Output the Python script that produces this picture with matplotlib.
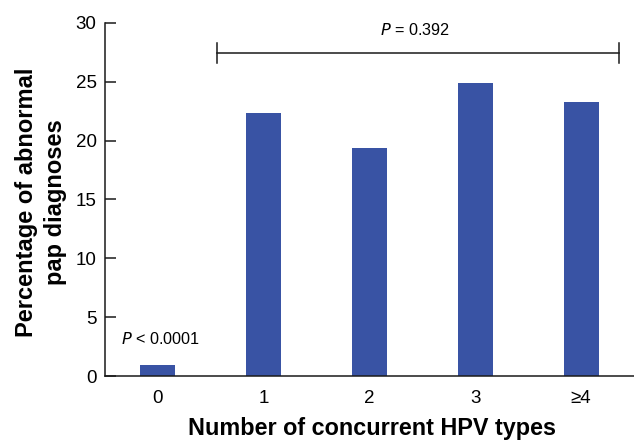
import matplotlib
matplotlib.use('Agg')
import matplotlib.pyplot as plt

# values
categories = ['0', '1', '2', '3', '\u22654']
pct_abnormal = [1.0, 22.3, 19.4, 24.9, 23.25]
yticks = [0, 5, 10, 15, 20, 25, 30]

BAR_COLOUR = '#3953A4'
LINE_COLOUR = '#1a1a1a'

plt.rcParams['font.family'] = ['Liberation Sans', 'DejaVu Sans']

fig = plt.figure(figsize=(6.34, 4.40), dpi=100)
ax = fig.add_axes([105 / 634, 1 - 376.3 / 440, 1 - 105 / 634, (376.3 - 22.7) / 440])

x = list(range(len(categories)))
ax.bar(x, pct_abnormal, width=0.33, color=BAR_COLOUR, zorder=2)

ax.set_xlim(-0.495, 4.5)
ax.set_ylim(0, 30)
ax.set_yticks(yticks)
ax.set_xticks(x)
ax.set_xticklabels(categories)

for s in ['top', 'right']:
    ax.spines[s].set_visible(False)
for s in ['left', 'bottom']:
    ax.spines[s].set_linewidth(1.1)
    ax.spines[s].set_color(LINE_COLOUR)

ax.tick_params(axis='y', direction='in', length=8, width=1.1, pad=6,
               labelsize=13.5, color=LINE_COLOUR)
ax.tick_params(axis='x', length=0, pad=10, labelsize=13.5)

ax.set_xlabel('Number of concurrent HPV types', fontsize=16.8, fontweight='bold')
ax.xaxis.set_label_coords(0.504, -0.116)
fig.text(41 / 634, 1 - 202.5 / 440, 'Percentage of abnormal\npap diagnoses',
         rotation=90, ha='center', va='center', multialignment='center',
         fontsize=17, fontweight='bold', linespacing=1.3)

# significance bracket across 1..>=4
br_left, br_right, br_y, cap = 0.56, 4.36, 27.45, 0.83
ax.plot([br_left, br_right], [br_y, br_y], color=LINE_COLOUR, lw=1.1, clip_on=False)
for bx in (br_left, br_right):
    ax.plot([bx, bx], [br_y - cap, br_y + cap], color=LINE_COLOUR, lw=1.1, clip_on=False)
ax.text(2.43, 29.35, '$\\it{P}$ = 0.392', ha='center', va='center', fontsize=11.7)
ax.text(0.03, 3.2, '$\\it{P}$ < 0.0001', ha='center', va='center', fontsize=11.7)

fig.savefig('out.png', dpi=100)
plt.close()
